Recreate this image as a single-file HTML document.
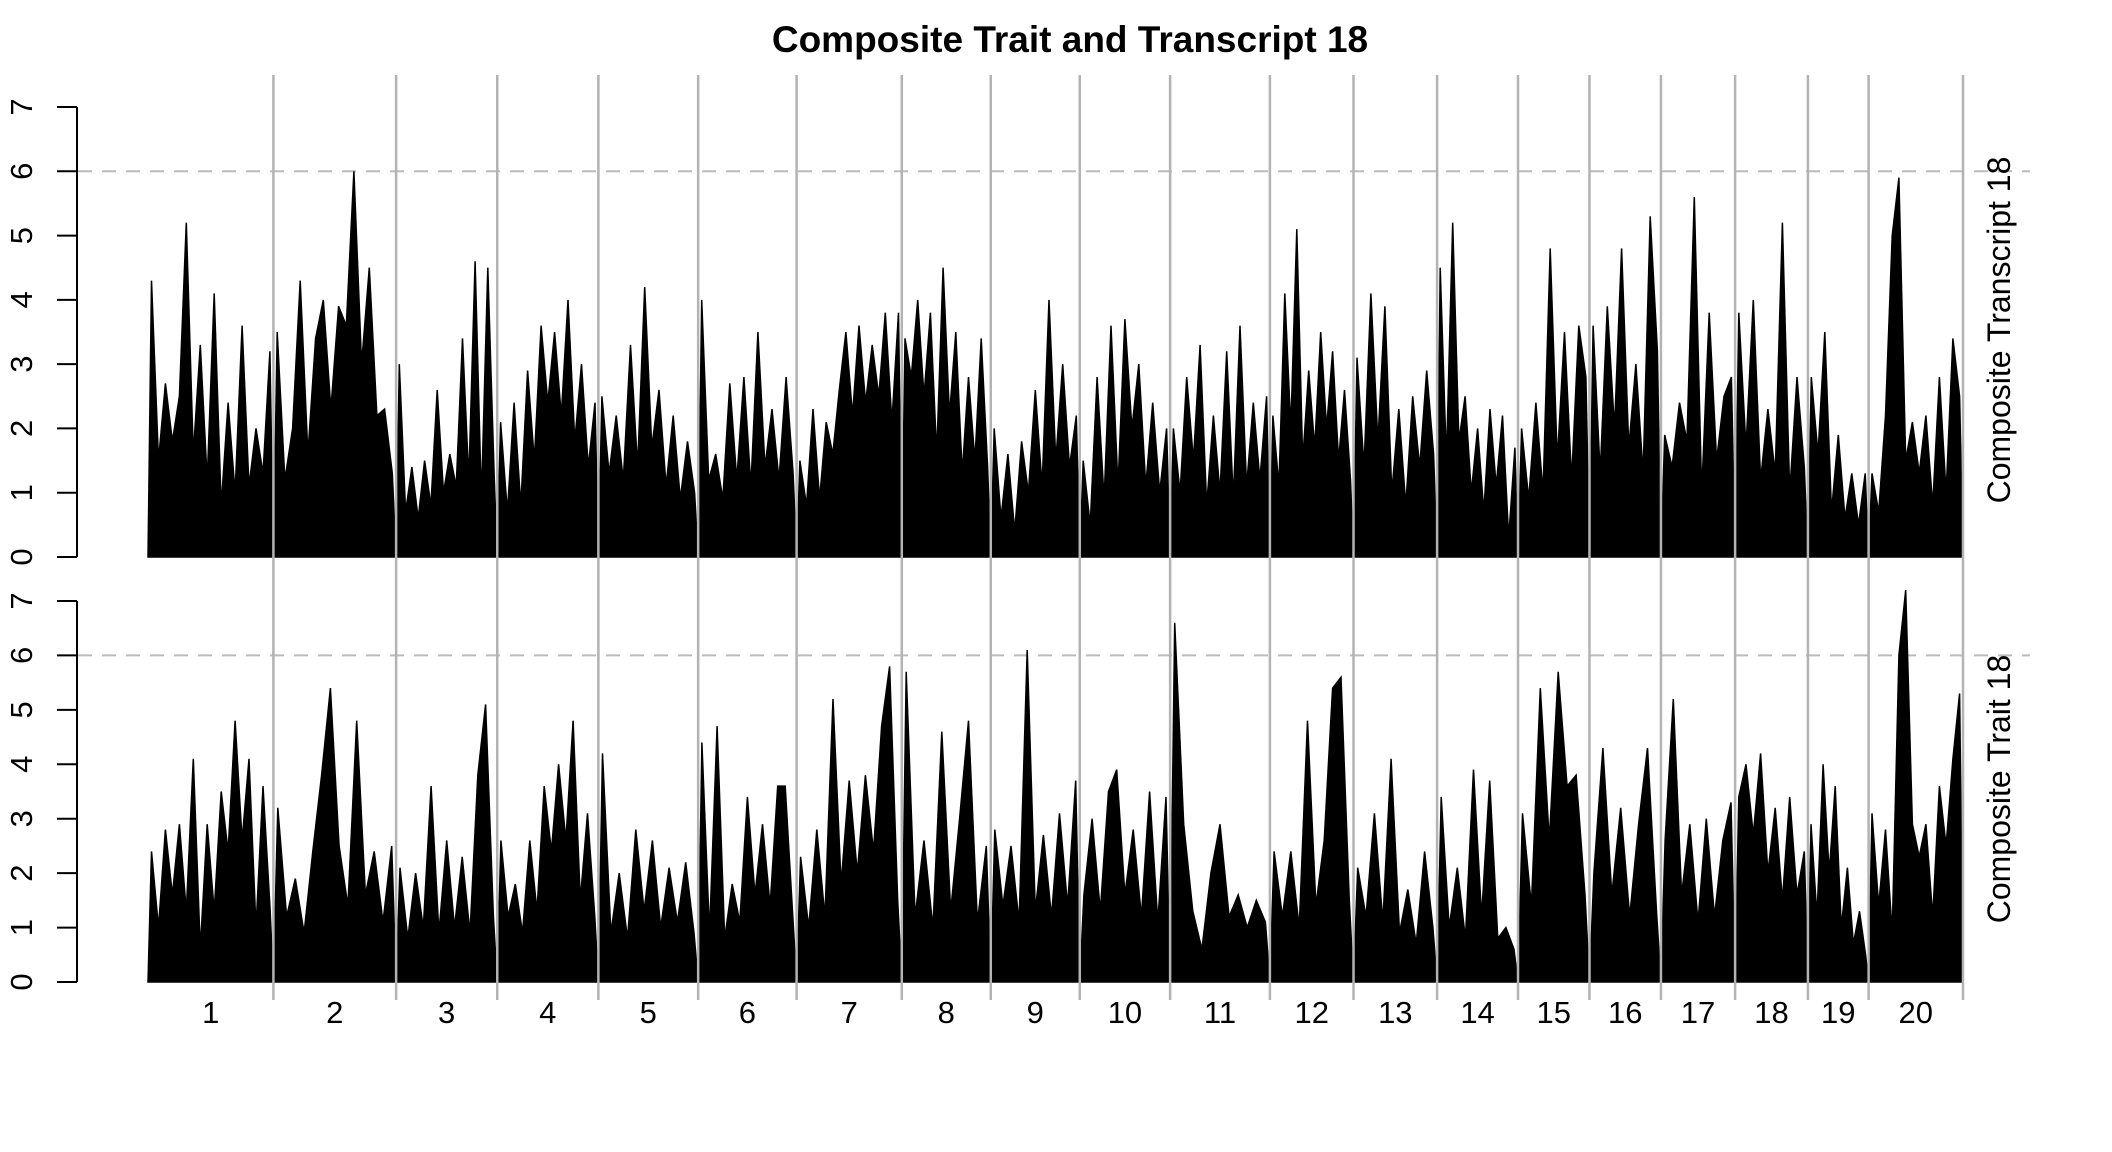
<!DOCTYPE html>
<html><head><meta charset="utf-8">
<style>
html,body{margin:0;padding:0;background:#fff;}
svg{display:block;font-family:"Liberation Sans",sans-serif;}
</style></head>
<body>
<svg id="chart" width="2112" height="1152" viewBox="0 0 2112 1152" xmlns="http://www.w3.org/2000/svg">
<text x="1070" y="52" text-anchor="middle" font-size="37" font-weight="bold">Composite Trait and Transcript 18</text>
<g id="g"></g>
</svg>
<script>
const chromosomes = ["1","2","3","4","5","6","7","8","9","10","11","12","13","14","15","16","17","18","19","20"];
const chrLengths = [93,91,75,75,74,73,78,66,66,67,74,62,62,60,53,53,55,54,45,70];
const yTicks = [0,1,2,3,4,5,6,7];
const threshold = 6;
const panelLabels = ["Composite Transcript 18","Composite Trait 18"];
const transcriptValues = [
 [4.3,1.5,2.7,1.8,2.5,5.2,1.6,3.3,1.2,4.1,0.8,2.4,1.0,3.6,1.1,2.0,1.3,3.2],
 [3.5,1.2,2.0,4.3,1.6,3.4,4.0,2.3,3.9,3.6,6.0,3.0,4.5,2.2,2.3,1.3],
 [3.0,0.7,1.4,0.6,1.5,0.8,2.6,1.0,1.6,1.1,3.4,1.2,4.6,0.9,4.5,1.3],
 [2.1,0.7,2.4,0.8,2.9,1.5,3.6,2.4,3.5,2.2,4.0,1.8,3.0,1.4,2.4],
 [2.5,1.3,2.2,1.2,3.3,1.4,4.2,1.7,2.6,1.1,2.2,0.9,1.8,1.0],
 [4.0,1.2,1.6,0.9,2.7,1.2,2.8,1.1,3.5,1.4,2.3,1.2,2.8,1.3],
 [1.5,0.8,2.3,0.9,2.1,1.6,2.6,3.5,2.2,3.6,2.4,3.3,2.5,3.8,2.1,3.8],
 [3.4,2.8,4.0,2.5,3.8,1.6,4.5,2.2,3.5,1.3,2.8,1.5,3.4,1.4],
 [2.0,0.6,1.6,0.4,1.8,1.0,2.6,1.1,4.0,1.5,3.0,1.4,2.2],
 [1.5,0.5,2.8,0.9,3.6,1.1,3.7,2.0,3.0,1.1,2.4,1.0,2.0],
 [2.0,1.0,2.8,1.5,3.3,0.8,2.2,1.0,3.2,0.9,3.6,1.1,2.4,1.2,2.5],
 [2.2,1.1,4.1,2.0,5.1,1.5,2.9,1.7,3.5,2.0,3.2,1.5,2.6,1.2],
 [3.1,1.4,4.1,1.8,3.9,1.0,2.3,0.8,2.5,1.4,2.9,1.6],
 [4.5,1.5,5.2,1.8,2.5,1.0,2.0,0.7,2.3,1.1,2.2,0.3,1.7],
 [2.0,0.9,2.4,1.0,4.8,1.5,3.5,1.2,3.6,2.8],
 [3.6,1.3,3.9,2.0,4.8,1.7,3.0,1.3,5.3,3.2],
 [1.9,1.4,2.4,1.8,5.6,1.0,3.8,1.5,2.5,2.8],
 [3.8,1.7,4.0,1.2,2.3,1.3,5.2,1.0,2.8,1.4],
 [2.8,1.6,3.5,0.7,1.9,0.6,1.3,0.5,1.3],
 [1.3,0.7,2.2,5.0,5.9,1.5,2.1,1.3,2.2,0.8,2.8,1.0,3.4,2.5]
];
const traitValues = [
 [2.4,1.0,2.8,1.6,2.9,1.3,4.1,0.6,2.9,1.3,3.5,2.4,4.8,2.6,4.1,1.0,3.6,1.4],
 [3.2,1.2,1.9,0.9,2.4,3.8,5.4,2.5,1.4,4.8,1.6,2.4,1.1,2.5],
 [2.1,0.8,2.0,1.0,3.6,0.9,2.6,1.0,2.3,0.9,3.8,5.1,1.2],
 [2.6,1.2,1.8,0.9,2.6,1.3,3.6,2.4,4.0,2.6,4.8,1.5,3.1,1.2],
 [4.2,0.9,2.0,0.8,2.8,1.3,2.6,1.0,2.1,1.1,2.2,0.9],
 [4.4,0.9,4.7,0.8,1.8,1.1,3.4,1.6,2.9,1.4,3.6,3.6,1.2],
 [2.3,1.0,2.8,1.2,5.2,1.8,3.7,2.0,3.8,2.4,4.7,5.8,1.5],
 [5.7,1.2,2.6,1.0,4.6,1.3,3.0,4.8,1.1,2.5],
 [2.8,1.4,2.5,1.1,6.1,1.3,2.7,1.2,3.1,1.4,3.7],
 [1.6,3.0,1.3,3.5,3.9,1.6,2.8,1.2,3.5,1.1,3.4],
 [6.6,2.9,1.3,0.6,2.0,2.9,1.2,1.6,1.0,1.5,1.1],
 [2.4,1.2,2.4,1.0,4.8,1.4,2.6,5.4,5.6,1.5],
 [2.1,1.2,3.1,1.1,4.1,0.9,1.7,0.7,2.4,1.0],
 [3.4,1.0,2.1,0.8,3.9,1.2,3.7,0.8,1.0,0.6],
 [3.1,1.4,5.4,2.6,5.7,3.6,3.8,1.6],
 [2.0,4.3,1.6,3.2,1.2,2.9,4.3,1.3],
 [2.6,5.2,1.6,2.9,1.1,3.0,1.2,2.6,3.3],
 [3.4,4.0,2.7,4.2,2.0,3.2,1.5,3.4,1.6,2.4],
 [2.9,1.2,4.0,2.0,3.6,1.0,2.1,0.7,1.3,0.5],
 [3.1,1.4,2.8,0.9,6.0,7.2,2.9,2.3,2.9,1.2,3.6,2.5,4.1,5.3]
];

const NS="http://www.w3.org/2000/svg";
const g=document.getElementById('g');
const X0=148, X1=1963;
const totalLen=chrLengths.reduce((a,b)=>a+b,0);
function xScale(pos){return X0+pos/totalLen*(X1-X0);}
const panels=[{y0:557,y7:107,vals:transcriptValues,ly:330},{y0:982,y7:601,vals:traitValues,ly:789}];
function mk(tag,attrs){const e=document.createElementNS(NS,tag);for(const k in attrs)e.setAttribute(k,attrs[k]);g.appendChild(e);return e;}

panels.forEach((p,pi)=>{
  const yS=v=>p.y0-(p.y0-p.y7)*v/7;
  const ax=mk('line',{x1:77,x2:77,y1:yS(0),y2:yS(7),stroke:'#000','stroke-width':2});
  
  
  yTicks.forEach(t=>{
    const tk=mk('line',{x1:57,x2:77,y1:yS(t),y2:yS(t),stroke:'#000','stroke-width':2});
    
    
    const tl=mk('text',{x:0,y:0,transform:`translate(32,${yS(t)}) rotate(-90)`,'text-anchor':'middle','font-size':31});
    tl.textContent=t;
    
    
  });
  const th=mk('line',{x1:78,x2:2030,y1:yS(threshold),y2:yS(threshold),stroke:'#bbb','stroke-width':2,'stroke-dasharray':'14 10'});
  
  
  let pts=[];let pos=0;
  p.vals.forEach((arr,ci)=>{
    const L=chrLengths[ci];
    pts.push([xScale(pos),yS(0)]);
    arr.forEach((v,i)=>{pts.push([xScale(pos+(i+0.5)/arr.length*L),yS(v)]);});
    pts.push([xScale(pos+L),yS(0)]);
    pos+=L;
  });
  const poly=mk('polygon',{points:pts.map(q=>q[0].toFixed(1)+','+q[1].toFixed(1)).join(' '),fill:'#000',stroke:'#000','stroke-width':1.5});
  
  
  const lab=mk('text',{x:0,y:0,transform:`translate(2010,${p.ly}) rotate(-90)`,'text-anchor':'middle','font-size':32});
  lab.textContent=panelLabels[pi];
  
  
});
let pos=0;
chrLengths.forEach((L,ci)=>{
  const xe=xScale(pos+L);
  const vl=mk('line',{x1:xe,x2:xe,y1:75,y2:1000,stroke:'#b3b3b3','stroke-width':2.5});
  
  
  const tx=mk('text',{x:xScale(pos+L/2),y:1023,'text-anchor':'middle','font-size':31});
  tx.textContent=chromosomes[ci];
  
  
  pos+=L;
});
</script>
</body></html>
